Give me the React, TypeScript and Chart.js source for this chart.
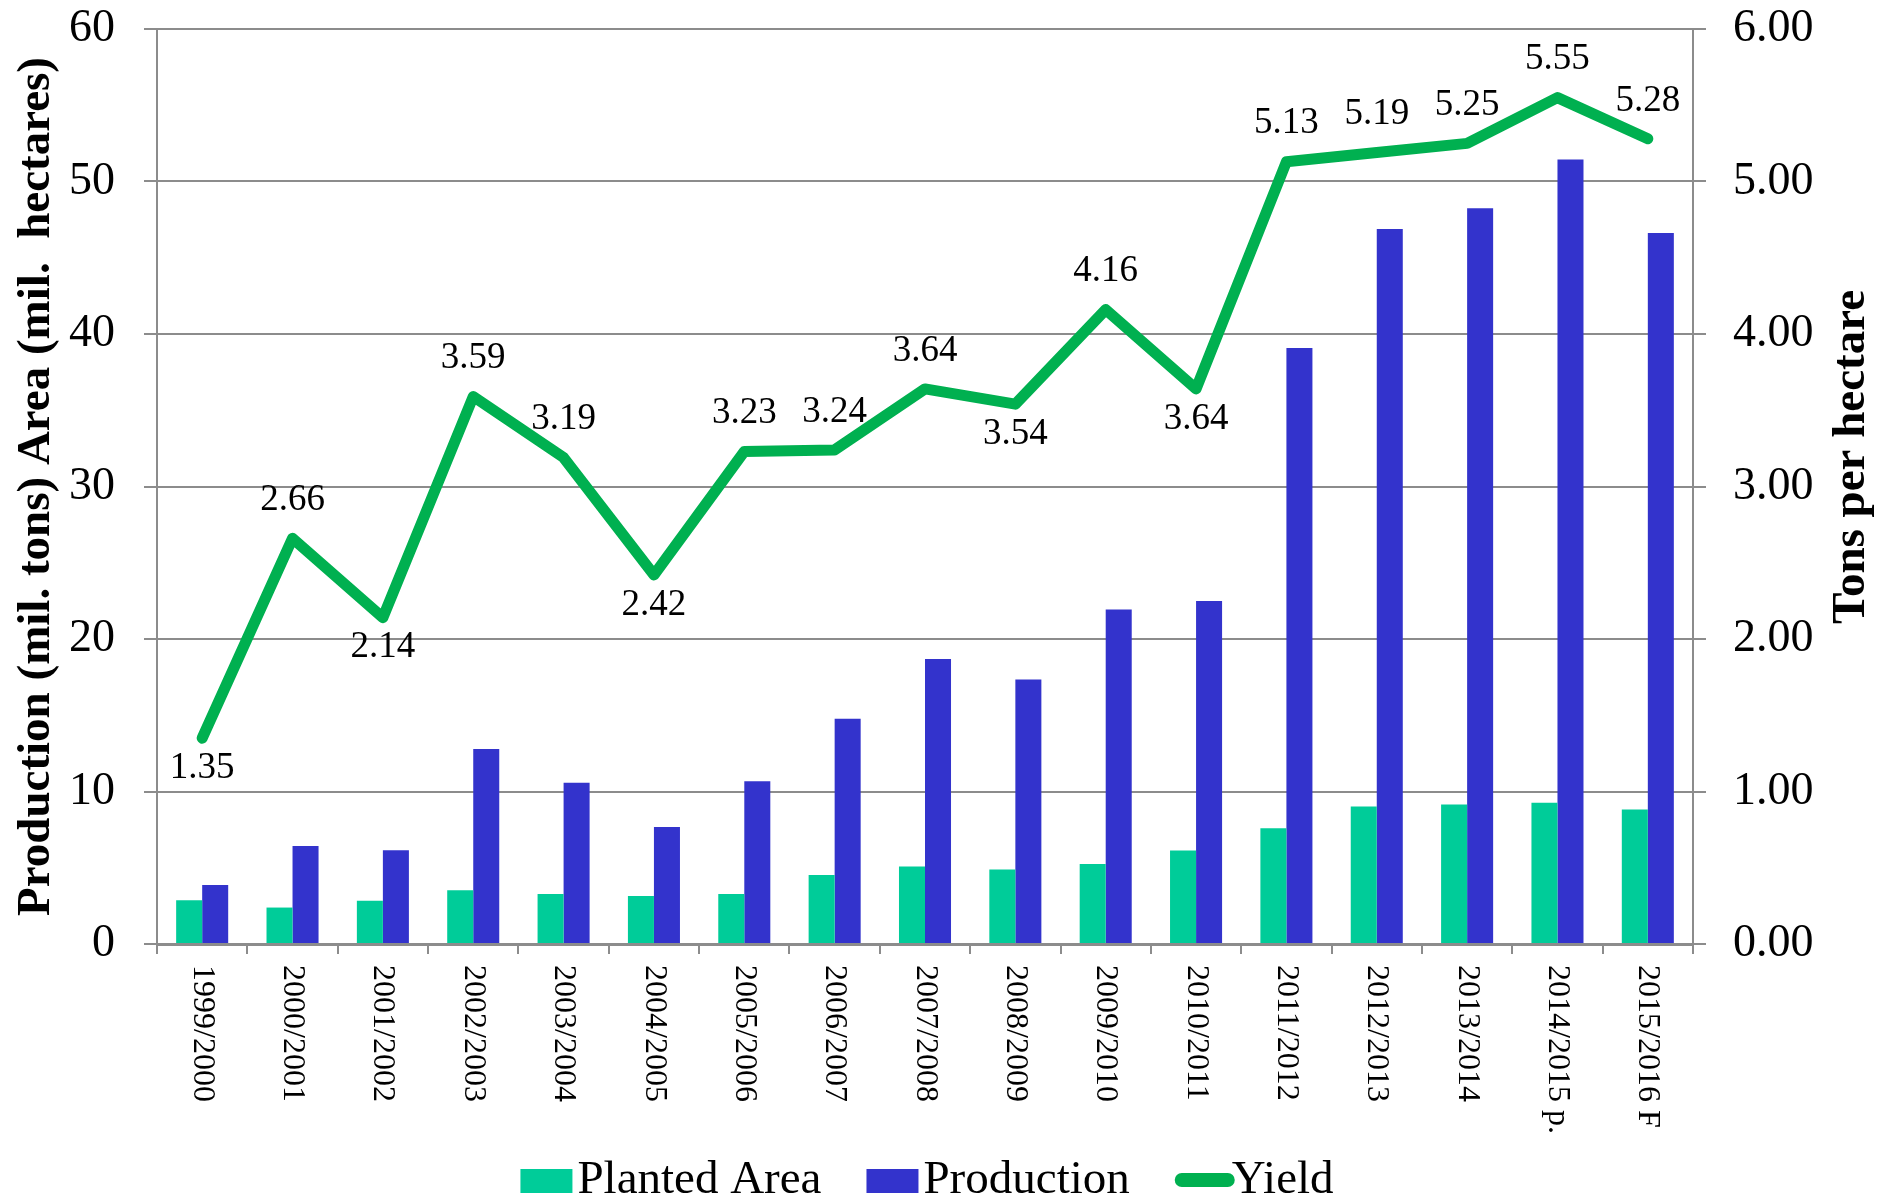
import React, { useEffect, useRef } from "react";
import { Chart, registerables } from "chart.js";

Chart.register(...registerables);

const categories = [
  "1999/2000", "2000/2001", "2001/2002", "2002/2003", "2003/2004", "2004/2005",
  "2005/2006", "2006/2007", "2007/2008", "2008/2009", "2009/2010", "2010/2011",
  "2011/2012", "2012/2013", "2013/2014", "2014/2015 p.", "2015/2016 F",
];

const plantedArea = [2.87, 2.39, 2.84, 3.52, 3.28, 3.15, 3.28, 4.53, 5.08, 4.88, 5.25, 6.13, 7.59, 9.02, 9.15, 9.26, 8.82];
const production = [3.87, 6.43, 6.15, 12.78, 10.57, 7.68, 10.68, 14.77, 18.69, 17.34, 21.93, 22.49, 39.08, 46.89, 48.25, 51.44, 46.63];
const yieldValues = [1.35, 2.66, 2.14, 3.59, 3.19, 2.42, 3.23, 3.24, 3.64, 3.54, 4.16, 3.64, 5.13, 5.19, 5.25, 5.55, 5.28];

// indices whose yield label sits below the line
const labelsBelow = [0, 2, 5, 9, 11];

const leftAxisTitle = "Production (mil. tons) Area (mil.  hectares)";
const rightAxisTitle = "Tons per hectare";

const TEAL = "#00CC99";
const BLUE = "#3333CC";
const GREEN = "#00B050";
const GRID = "#8c8c8c";
const SERIF = "'Liberation Serif', 'Times New Roman', serif";

const customText = {
  id: "customText",
  afterDatasetsDraw(chart: any) {
    const ctx = chart.ctx;
    const meta = chart.getDatasetMeta(0);
    ctx.save();
    ctx.fillStyle = "#000";
    ctx.font = `37px ${SERIF}`;
    ctx.textAlign = "center";
    ctx.textBaseline = "middle";
    meta.data.forEach((pt: any, i: number) => {
      const below = labelsBelow.includes(i);
      ctx.fillText(yieldValues[i].toFixed(2), pt.x, below ? pt.y + 30 : pt.y - 38);
    });
    ctx.restore();
  },
  afterDraw(chart: any) {
    const ctx = chart.ctx;
    const area = chart.chartArea;
    const xs = chart.scales.x;
    ctx.save();
    ctx.fillStyle = "#000";

    // x category labels, rotated clockwise
    ctx.font = `32px ${SERIF}`;
    ctx.textAlign = "left";
    ctx.textBaseline = "middle";
    categories.forEach((c, i) => {
      const x = xs.getPixelForValue(i);
      ctx.save();
      ctx.translate(x, area.bottom + 21);
      ctx.rotate(Math.PI / 2);
      ctx.fillText(c, 0, 0);
      ctx.restore();
    });

    // axis titles
    ctx.font = `bold 47px ${SERIF}`;
    ctx.textAlign = "center";
    ctx.textBaseline = "middle";
    ctx.save();
    ctx.translate(37, (area.top + area.bottom) / 2);
    ctx.rotate(-Math.PI / 2);
    ctx.fillText(leftAxisTitle, 0, 0);
    ctx.restore();
    ctx.save();
    ctx.translate(1852, 457);
    ctx.rotate(-Math.PI / 2);
    ctx.fillText(rightAxisTitle, 0, 0);
    ctx.restore();

    // legend
    ctx.font = `47px ${SERIF}`;
    ctx.textAlign = "left";
    ctx.textBaseline = "alphabetic";
    const items = [
      { kind: "box", color: TEAL, text: "Planted Area" },
      { kind: "box", color: BLUE, text: "Production" },
      { kind: "line", color: GREEN, text: "Yield" },
    ];
    const symW = 52;
    const symGap = 5;
    const itemGap = 45;
    const widths = items.map((it) => symW + symGap + ctx.measureText(it.text).width);
    const total = widths.reduce((a, b) => a + b, 0) + itemGap * (items.length - 1);
    let x = (area.left + area.right) / 2 + 2 - total / 2;
    const baseline = 1193;
    items.forEach((it, i) => {
      if (it.kind === "box") {
        ctx.fillStyle = it.color;
        ctx.fillRect(x, baseline - 24, symW, 24);
      } else {
        ctx.strokeStyle = it.color;
        ctx.lineWidth = 14;
        ctx.lineCap = "round";
        ctx.beginPath();
        ctx.moveTo(x + 7, baseline - 13);
        ctx.lineTo(x + symW + 1, baseline - 13);
        ctx.stroke();
      }
      ctx.fillStyle = "#000";
      ctx.fillText(it.text, x + symW + symGap, baseline);
      x += widths[i] + itemGap;
    });
    ctx.restore();
  },
};

export default function App() {
  const ref = useRef<HTMLCanvasElement | null>(null);

  useEffect(() => {
    if (!ref.current) return;
    const chart = new Chart(ref.current, {
      type: "bar",
      data: {
        labels: categories,
        datasets: [
          {
            type: "line",
            label: "Yield",
            data: yieldValues,
            yAxisID: "y1",
            borderColor: GREEN,
            backgroundColor: GREEN,
            borderWidth: 11,
            pointRadius: 0,
            tension: 0,
            borderCapStyle: "round",
            borderJoinStyle: "round",
            order: 0,
          } as any,
          {
            type: "bar",
            label: "Planted Area",
            data: plantedArea,
            yAxisID: "y",
            backgroundColor: TEAL,
            borderWidth: 0,
            categoryPercentage: 0.576,
            barPercentage: 1,
            order: 1,
          },
          {
            type: "bar",
            label: "Production",
            data: production,
            yAxisID: "y",
            backgroundColor: BLUE,
            borderWidth: 0,
            categoryPercentage: 0.576,
            barPercentage: 1,
            order: 1,
          },
        ],
      },
      options: {
        responsive: false,
        animation: false,
        layout: { padding: { top: 29, left: 0, right: 0, bottom: 0 } },
        plugins: {
          legend: { display: false },
          tooltip: { enabled: false },
        },
        scales: {
          x: {
            type: "category",
            offset: true,
            grid: {
              display: true,
              drawOnChartArea: false,
              drawTicks: true,
              tickLength: 10,
              color: GRID,
              lineWidth: 2,
              offset: true,
            },
            border: { display: true, color: GRID, width: 3 },
            ticks: { display: false, autoSkip: false },
            afterFit: (s: any) => {
              s.height = 256;
              s.paddingLeft = 0;
              s.paddingRight = 0;
            },
          },
          y: {
            position: "left",
            min: 0,
            max: 60,
            ticks: {
              stepSize: 10,
              color: "#000",
              font: { family: SERIF, size: 46 },
              padding: 29,
            },
            grid: { color: GRID, lineWidth: 2, tickLength: 13 },
            border: { display: true, color: GRID, width: 2 },
            afterFit: (s: any) => {
              s.width = 157;
              s.paddingTop = 0;
              s.paddingBottom = 0;
            },
          },
          y1: {
            position: "right",
            min: 0,
            max: 6,
            ticks: {
              stepSize: 1,
              color: "#000",
              font: { family: SERIF, size: 46 },
              padding: 27,
              callback: (v: any) => Number(v).toFixed(2),
            },
            grid: { drawOnChartArea: false, color: GRID, lineWidth: 2, tickLength: 13 },
            border: { display: true, color: GRID, width: 2 },
            afterFit: (s: any) => {
              s.width = 203;
              s.paddingTop = 0;
              s.paddingBottom = 0;
            },
          },
        },
      } as any,
      plugins: [customText],
    });
    return () => chart.destroy();
  }, []);

  return (
    <div style={{ position: "absolute", left: 0, top: 0, width: 1896, height: 1200, background: "#fff" }}>
      <canvas ref={ref} width={1896} height={1200} style={{ width: 1896, height: 1200 }} />
    </div>
  );
}
